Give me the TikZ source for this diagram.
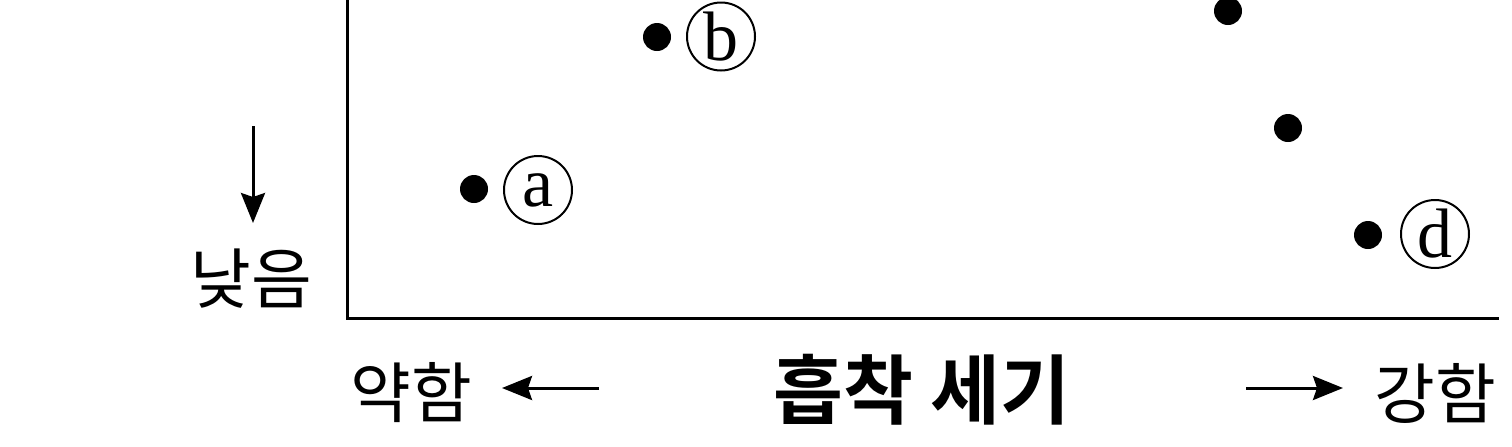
\documentclass[tikz,border=0pt]{standalone}
\usepackage{fontspec}
\setmainfont{Liberation Serif}
\newfontfamily\kr{Noto Sans CJK KR}[BoldFont={Noto Sans CJK KR Bold}]
\usetikzlibrary{arrows.meta}
\tikzset{
  axisline/.style={line width=1.5pt, line cap=rect},
  dirarrow/.style={line width=1.5pt, -{Stealth[length=15pt,width=12pt,inset=2pt]}},
  datadot/.style={circle, fill=black, inner sep=0pt, minimum size=14pt},
  circlabel/.style={circle, draw, line width=1pt, inner sep=0pt, minimum size=34pt, font=\fontsize{35}{35}\selectfont},
  krlabel/.style={inner sep=0pt, font=\kr\fontsize{33}{33}\selectfont},
  krtitle/.style={inner sep=0pt, font=\kr\bfseries\fontsize{38}{38}\selectfont}
}
\begin{document}
\begin{tikzpicture}[x=0.5pt,y=-0.5pt]
\useasboundingbox (0,0) rectangle (1512,446);
% axes
\coordinate (ytop) at (347,-2);
\coordinate (origin) at (347,318);
\coordinate (xend) at (1497,318);
\draw[axisline] (ytop) -- (origin) -- (xend);
% data points
\node[datadot] (pa) at (474,189) {};
\node[datadot] (pb) at (657,37) {};
\node[datadot] (pc1) at (1228,11) {};
\node[datadot] (pc2) at (1288,128) {};
\node[datadot] (pd) at (1368,235) {};
% circled labels
\node[circlabel] (la) at (538,190) {a};
\node[circlabel] (lb) at (721,36.5) {b};
\node[circlabel] (ld) at (1435,234) {d};
% y-axis direction
\coordinate (vtail) at (253,126);
\coordinate (vtip) at (253,223);
\draw[dirarrow] (vtail) -- (vtip);
\node[krlabel] (low) at (251.5,279) {낮음};
% x-axis labels
\node[krlabel] (weak) at (411,392.5) {약함};
\coordinate (ltail) at (599,388);
\coordinate (ltip) at (502,388);
\draw[dirarrow] (ltail) -- (ltip);
\node[krtitle] (title) at (922,389.5) {흡착 세기};
\coordinate (rtail) at (1246,388);
\coordinate (rtip) at (1343,388);
\draw[dirarrow] (rtail) -- (rtip);
\node[krlabel] (strong) at (1435,393.5) {강함};
\end{tikzpicture}
\end{document}
